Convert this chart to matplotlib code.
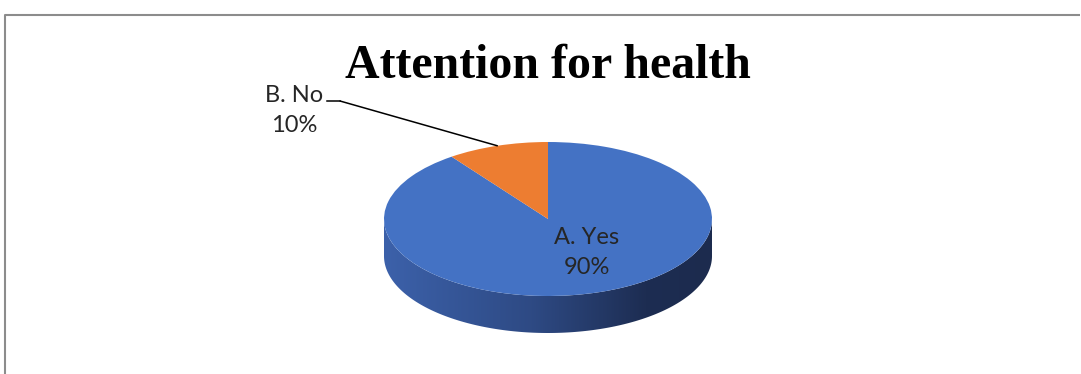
import numpy as np
import matplotlib
matplotlib.use("Agg")
from matplotlib import pyplot as plt
from matplotlib.colors import LinearSegmentedColormap
from matplotlib.patches import Polygon

# survey answers
labels = ["A. Yes", "B. No"]
shares = [90, 10]
colors = ["#4472C4", "#ED7D31"]
title = "Attention for health"

W, H = 1081, 374
fig = plt.figure(figsize=(W / 100, H / 100), dpi=100)

# pie geometry (pixels): top ellipse centre, radii and side depth
cx, cy, rx, ry, depth = 548, 219, 164, 77, 37
d = depth / ry
ax = fig.add_axes([(cx - rx) / W, (H - (cy + ry + depth)) / H,
                   2 * rx / W, (2 * ry + depth) / H])

wedges, _ = ax.pie(shares, colors=colors, startangle=90, counterclock=False,
                   wedgeprops=dict(linewidth=0, zorder=3))
ax.set_aspect("auto")
ax.axis("off")

# side band of the front half, shaded left to right
t = np.linspace(np.pi, 2 * np.pi, 200)
side = np.vstack([np.column_stack([np.cos(t), np.sin(t)]),
                  np.column_stack([np.cos(t[::-1]), np.sin(t[::-1]) - d])])
shade = LinearSegmentedColormap.from_list(
    "side", [(0, "#3C61AA"), (0.45, "#2E4A84"), (0.8, "#1D2D52"), (1, "#1C2B4E")])
grad = np.linspace(0, 1, 256)[None, :]
img = ax.imshow(grad, cmap=shade, extent=(-1, 1, -1 - d, 0), aspect="auto",
                zorder=2, interpolation="bicubic")
clip = Polygon(side, closed=True, transform=ax.transData, facecolor="none", edgecolor="none")
ax.add_patch(clip)
img.set_clip_path(clip)
ax.set_xlim(-1, 1)
ax.set_ylim(-1 - d, 1)

# overlay axes in pixel units for frame, labels and title
bg = fig.add_axes([0, 0, 1, 1], zorder=5)
bg.patch.set_visible(False)
bg.set_xlim(0, W)
bg.set_ylim(H, 0)
bg.axis("off")
bg.plot([4.5, 4.5, 1080], [H, 14.5, 14.5], color="#8c8c8c", lw=1.5, solid_capstyle="butt")

# leader line to the small slice, ending on the rim at its middle angle
mid = np.deg2rad(90 - 360 * (shares[0] + shares[1] / 2) / sum(shares))
ax.annotate("", xy=(np.cos(mid), np.sin(mid)), xycoords="data",
            xytext=(340, 101), textcoords=bg.transData,
            arrowprops=dict(arrowstyle="-", color="black", lw=1.1,
                            shrinkA=0, shrinkB=0), annotation_clip=False)
bg.plot([327, 340], [101, 101], color="black", lw=1.1)

lab_font = dict(family="Lato", fontsize=17, color="#262626", ha="center", va="center")
bg.text(587, 237, labels[0], **lab_font)
bg.text(587, 267, f"{shares[0]}%", **lab_font)
bg.text(294, 95, labels[1], **lab_font)
bg.text(294, 125, f"{shares[1]}%", **lab_font)

bg.text(548, 66, title, family="Liberation Serif", fontweight="bold",
        fontsize=34.5, ha="center", va="center", color="black")

fig.savefig("out.png", dpi=100)
